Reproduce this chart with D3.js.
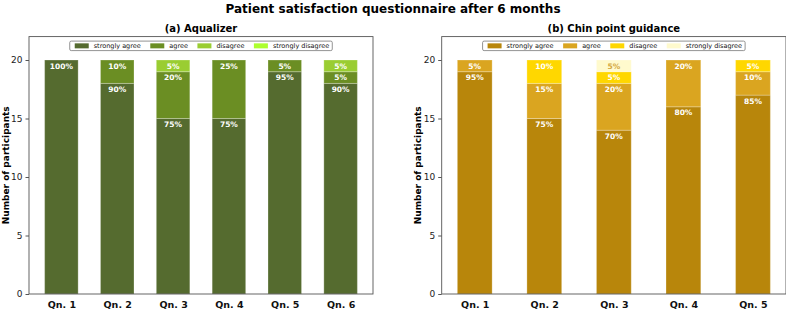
<!DOCTYPE html>
<html><head><meta charset="utf-8">
<script src="https://cdn.jsdelivr.net/npm/d3@7"></script>
<style>body{margin:0;background:#fff}svg{display:block;font-family:"DejaVu Sans",sans-serif}</style>
</head><body><svg id="c" width="786" height="309"></svg>
<script>
const mainTitle = "Patient satisfaction questionnaire after 6 months";
const seriesNames = ["strongly agree","agree","disagree","strongly disagree"];
const total = 20;
// Panel (a) Aqualizer
const catsA = ["Qn. 1","Qn. 2","Qn. 3","Qn. 4","Qn. 5","Qn. 6"];
const aStronglyAgree = [20,18,15,15,19,18];
const aAgree = [0,2,4,5,1,1];
const aDisagree = [0,0,1,0,0,1];
const aStronglyDisagree = [0,0,0,0,0,0];
const colorsA = ["#556B2F","#6B8E23","#9ACD32","#ADFF2F"];
// Panel (b) Chin point guidance
const catsB = ["Qn. 1","Qn. 2","Qn. 3","Qn. 4","Qn. 5"];
const bStronglyAgree = [19,15,14,16,17];
const bAgree = [1,3,4,4,2];
const bDisagree = [0,2,1,0,1];
const bStronglyDisagree = [0,0,1,0,0];
const colorsB = ["#B8860B","#DAA520","#FFD700","#FFFACD"];
const yTicks = [0,5,10,15,20];

const svg = d3.select("#c");
svg.append("text").attr("x",393).attr("y",13).attr("text-anchor","middle")
  .attr("font-weight","bold").attr("font-size","12px").text(mainTitle);

function panel(opts){
  const {left,right,top,bottom,cats,series,colors,title,barW,labelOverride} = opts;
  const g = svg.append("g");
  const n = cats.length;
  const half = barW/2, marg = (n-1+barW)*0.05;
  const x = d3.scaleLinear().domain([-half-marg, n-1+half+marg]).range([left,right]);
  const y = d3.scaleLinear().domain([0,22]).range([bottom,top]);
  cats.forEach((c,i)=>{
    let base = 0;
    series.forEach((s,k)=>{
      const v = s[i];
      if(v>0){
        g.append("rect").attr("x",x(i-half)).attr("width",x(i+half)-x(i-half))
          .attr("y",y(base+v)).attr("height",y(base)-y(base+v))
          .attr("fill",colors[k]).attr("stroke","rgba(255,255,255,0.25)").attr("stroke-width",1);
        const pct = Math.round(v/total*100)+"%";
        g.append("text").attr("x",x(i)).attr("y",y(base+v)+6).attr("dy","0.35em")
          .attr("text-anchor","middle").attr("font-weight","bold").attr("font-size","7.5px")
          .attr("fill", k===3 && labelOverride ? labelOverride : "#fff").text(pct);
      }
      base += v;
    });
  });
  g.append("rect").attr("x",left).attr("y",top).attr("width",right-left).attr("height",bottom-top)
    .attr("fill","none").attr("stroke","#555").attr("stroke-width",0.9);
  const ya = g.append("g").attr("transform",`translate(${left},0)`)
    .call(d3.axisLeft(y).tickValues(yTicks).tickSize(3.5).tickPadding(3));
  ya.select(".domain").remove();
  ya.selectAll("line").attr("stroke","#555");
  ya.selectAll("text").attr("font-size","9px").attr("fill","#222").attr("font-family","DejaVu Sans");
  const xa = g.append("g").attr("transform",`translate(0,${bottom})`)
    .call(d3.axisBottom(x).tickValues(d3.range(n)).tickFormat(i=>cats[i]).tickSize(0).tickPadding(7.5));
  xa.select(".domain").remove();
  xa.selectAll("text").attr("font-size","9.5px").attr("font-weight","bold").attr("fill","#111").attr("font-family","DejaVu Sans");
  g.append("text").attr("x",(left+right)/2).attr("y",32).attr("text-anchor","middle")
    .attr("font-weight","bold").attr("font-size","10px").text(title);
  g.append("text").attr("transform",`translate(${left-20.5},${(top+bottom)/2}) rotate(-90)`)
    .attr("text-anchor","middle").attr("font-weight","bold").attr("font-size","9px").text("Number of participants");
  const lg = g.append("g");
  const fs = 6.5;
  const items = [];
  seriesNames.forEach((nm,k)=>{
    const t = lg.append("text").attr("font-size",fs+"px").attr("fill","#111").text(nm);
    items.push({t,w:t.node().getComputedTextLength(),k});
  });
  const hw = 14, gap1 = 5, gap2 = 9.5, padL = 5, padR = 3;
  let totalW = padL + padR;
  items.forEach((it,j)=>{ totalW += hw+gap1+it.w + (j<items.length-1?gap2:0); });
  const lx0 = (left+right)/2 - totalW/2, ly = top+4.5, lh = 9.5;
  lg.insert("rect",":first-child").attr("x",lx0).attr("y",ly).attr("width",totalW).attr("height",lh)
    .attr("rx",1.5).attr("fill","#fff").attr("stroke","#777").attr("stroke-width",0.8);
  let cx = lx0 + padL;
  items.forEach((it)=>{
    lg.append("rect").attr("x",cx).attr("y",ly+lh/2-2.5).attr("width",hw).attr("height",5).attr("fill",colors[it.k]);
    it.t.attr("x",cx+hw+gap1).attr("y",ly+lh/2).attr("dy","0.35em");
    cx += hw+gap1+it.w+gap2;
  });
}

panel({left:29,right:373,top:36.6,bottom:294,cats:catsA,
  series:[aStronglyAgree,aAgree,aDisagree,aStronglyDisagree],colors:colorsA,
  title:"(a) Aqualizer",barW:0.6});
panel({left:441.7,right:786,top:36.6,bottom:294,cats:catsB,
  series:[bStronglyAgree,bAgree,bDisagree,bStronglyDisagree],colors:colorsB,
  title:"(b) Chin point guidance",barW:0.5,labelOverride:"#D4A840"});
</script></body></html>
